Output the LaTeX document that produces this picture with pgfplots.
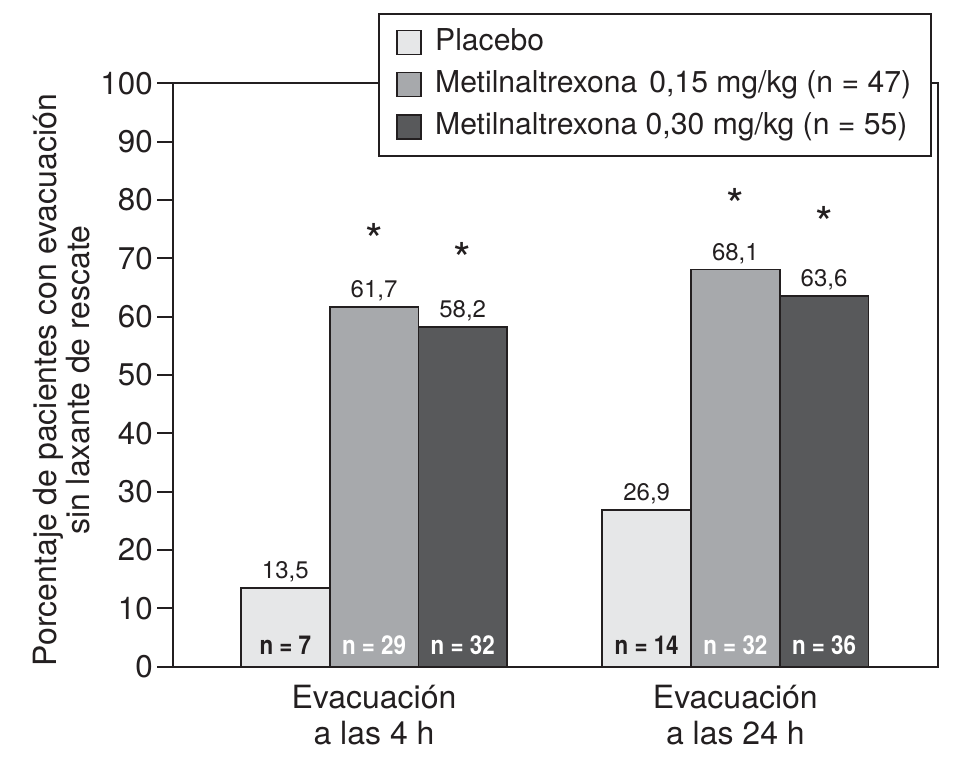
\documentclass[border=0pt]{standalone}
\usepackage{pgfplots}
\pgfplotsset{compat=1.18}
\usepackage{fontspec}
\setmainfont{TeX Gyre Heros}
\newfontfamily\cond[FakeStretch=0.86]{TeX Gyre Heros}
\definecolor{cP}{HTML}{E6E7E8}
\definecolor{cM}{HTML}{A7A9AC}
\definecolor{cD}{HTML}{58595B}
\definecolor{ink}{HTML}{231F20}
\begin{document}
\begin{tikzpicture}
\begin{axis}[
  at={(130.1pt,74.4pt)}, anchor=south west,
  scale only axis, width=573.2pt, height=437.6pt,
  xmin=-0.555, xmax=1.560, ymin=0, ymax=100,
  ybar=0pt, bar width=0.2455,
  /pgf/number format/assume math mode=true,
  axis line style={line width=1.5pt, ink},
  xtick={0,1},
  xticklabels={{Evacuación\\a las 4 h},{Evacuación\\a las 24 h}},
  xticklabel style={align=center, font=\fontsize{24}{27.5}\selectfont, text=ink, yshift=2pt},
  major x tick style={draw=none},
  ytick={0,10,...,100},
  ytick pos=left, tick align=outside,
  major tick length=12pt,
  major y tick style={line width=1.5pt, ink},
  yticklabel style={font=\fontsize{23.5}{28}\selectfont, text=ink},
  ylabel={Porcentaje de pacientes con evacuación\\sin laxante de rescate},
  ylabel style={align=center, font=\fontsize{24}{24.5}\selectfont, text=ink,
    at={(axis description cs:-0.146,0.4915)}, anchor=center},
  nodes near coords={\pgfmathprintnumber[fixed,fixed zerofill,precision=1,use comma]{\pgfplotspointmeta}},
  nodes near coords style={font=\fontsize{18}{20}\selectfont, text=ink, anchor=base, yshift=7pt},
  legend style={at={(axis description cs:0.2676,1.1205)}, anchor=north west,
    draw=ink, line width=1.5pt, fill=white, font=\fontsize{22.6}{26}\selectfont, text=ink,
    inner xsep=13pt, inner ysep=9pt, row sep=6.6pt,
    nodes={inner sep=2pt, text height=16pt, text depth=5pt}},
  legend cell align=left,
  legend image code/.code={\draw[#1, line width=1pt] (0pt,-9pt) rectangle (18pt,9pt); \path (26pt,0pt);},
]
\addplot[fill=cP, draw=ink, line width=1.3pt] coordinates {(0,13.5) (1,26.9)};
\addplot[fill=cM, draw=ink, line width=1.3pt] coordinates {(0,61.7) (1,68.1)};
\addplot[fill=cD, draw=ink, line width=1.3pt] coordinates {(0,58.2) (1,63.6)};
\legend{{Placebo}, {Metilnaltrexona\hspace{9pt}0,15 mg/kg (n = 47)}, {Metilnaltrexona 0,30 mg/kg (n = 55)}}
\begin{scope}[every node/.style={font=\cond\bfseries\fontsize{19.5}{22}\selectfont, anchor=base, yshift=9pt}]
\node[text=ink] at (axis cs:-0.2455,0) {n = 7};
\node[text=white] at (axis cs:0,0) {n = 29};
\node[text=white] at (axis cs:0.2455,0) {n = 32};
\node[text=ink] at (axis cs:0.7545,0) {n = 14};
\node[text=white] at (axis cs:1,0) {n = 32};
\node[text=white] at (axis cs:1.2455,0) {n = 36};
\end{scope}
\begin{scope}[every node/.style={font=\fontsize{34}{34}\selectfont, text=ink, anchor=center, yshift=-5pt}]
\node at (axis cs:0,74.3) {*};
\node at (axis cs:0.2455,71.1) {*};
\node at (axis cs:1,80.3) {*};
\node at (axis cs:1.2455,77.2) {*};
\end{scope}
\end{axis}
\pgfresetboundingbox
\useasboundingbox (0,0) rectangle (715.5pt,574.5pt);
\end{tikzpicture}
\end{document}
